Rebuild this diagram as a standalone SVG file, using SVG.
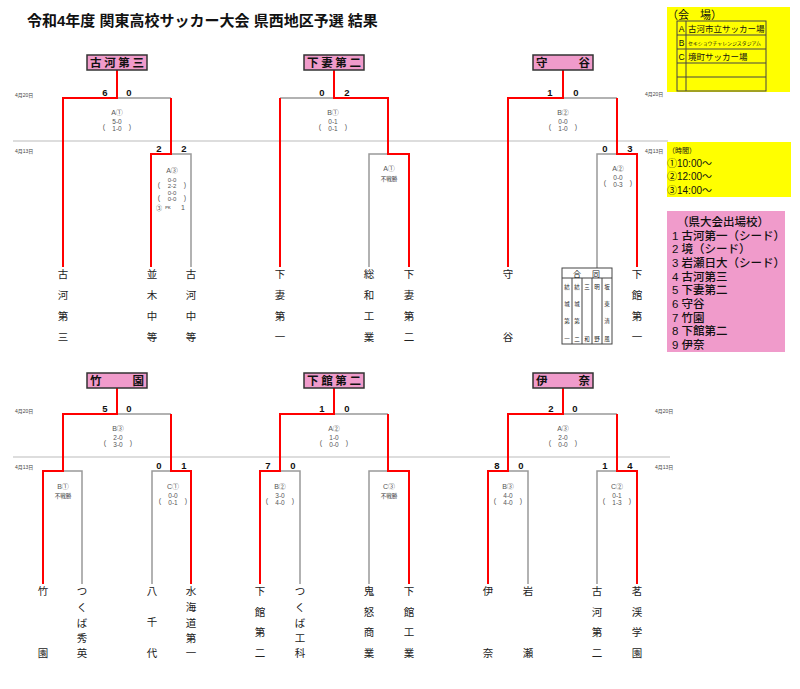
<svg xmlns="http://www.w3.org/2000/svg" width="800" height="689" viewBox="0 0 800 689">
<style>
text{font-family:"Liberation Sans","Noto Sans CJK JP",sans-serif;fill:#111}
.red{stroke:#f00;stroke-width:2;fill:none}
.gray{stroke:#999;stroke-width:1.5;fill:none}
.div{stroke:#bbb;stroke-width:1}
.box{fill:#f09bcb;stroke:#333;stroke-width:1.5}
.boxt{font-size:11.5px;font-weight:bold}
.sc{font-size:9.5px;font-weight:bold;text-anchor:middle}
.m{font-size:7px;fill:#555;text-anchor:middle}
.n{font-size:6.5px;fill:#555;text-anchor:middle}
.n6{font-size:6px;fill:#555;text-anchor:middle}
.fs{font-size:5.5px;fill:#333;text-anchor:middle}
.nm{font-size:10.5px;fill:#222;text-anchor:middle}
.dt{font-size:5px;fill:#444}
.tiny{font-size:5.5px;fill:#222;text-anchor:middle}
.yl{fill:#ffff00}
.pk{fill:#f09bcb}
.tb{fill:none;stroke:#444;stroke-width:1}
.lg{font-size:11.5px;fill:#111;font-weight:500}
.cj{font-family:"Noto Sans CJK JP",sans-serif}
</style>

<rect width="800" height="689" fill="#fff"/>
<text x="27" y="26" font-size="15" font-weight="bold">令和4年度 関東高校サッカー大会 県西地区予選 結果</text>

<!-- dividers and date labels -->
<g id="dates">
<line class="div" x1="13" y1="141" x2="668" y2="141"/>
<line class="div" x1="13" y1="457" x2="670" y2="457"/>
<text class="dt" x="15" y="97">4月20日</text>
<text class="dt" x="15" y="153">4月13日</text>
<text class="dt" x="645" y="96">4月20日</text>
<text class="dt" x="645" y="153">4月13日</text>
<text class="dt" x="15" y="413">4月20日</text>
<text class="dt" x="15" y="469">4月13日</text>
<text class="dt" x="655" y="413">4月20日</text>
<text class="dt" x="655" y="469">4月13日</text>
</g>

<!-- connectors -->
<g id="connectors">
<!-- 古河第三 -->
<path class="gray" d="M117,98 H171"/>
<path class="gray" d="M171,154 H191 V267"/>
<path class="red" d="M117,70 V98 H63 V267"/>
<path class="red" d="M171,98 V154 H151 V267"/>
<!-- 下妻第二 -->
<path class="gray" d="M334,98 H280"/>
<path class="gray" d="M388,154 H369 V267"/>
<path class="red" d="M280,98 V267"/>
<path class="red" d="M334,70 V98 H388 V154 H409 V267"/>
<!-- 守谷 -->
<path class="gray" d="M563,98 H617"/>
<path class="gray" d="M617,154 H597 V268"/>
<path class="red" d="M563,70 V98 H508 V267"/>
<path class="red" d="M617,98 V154 H637 V267"/>
<!-- 竹園 -->
<path class="gray" d="M117,414 H171"/>
<path class="gray" d="M63,471 H82 V584"/>
<path class="gray" d="M171,471 H152 V584"/>
<path class="red" d="M117,388 V414 H63 V471 H43 V584"/>
<path class="red" d="M171,414 V471 H191 V584"/>
<!-- 下館第二 -->
<path class="gray" d="M334,414 H388"/>
<path class="gray" d="M280,471 H300 V584"/>
<path class="gray" d="M388,471 H369 V584"/>
<path class="red" d="M334,388 V414 H280 V471 H260 V584"/>
<path class="red" d="M388,414 V471 H409 V584"/>
<!-- 伊奈 -->
<path class="gray" d="M563,414 H617"/>
<path class="gray" d="M508,471 H528 V584"/>
<path class="gray" d="M617,471 H597 V584"/>
<path class="red" d="M563,388 V414 H508 V471 H488 V584"/>
<path class="red" d="M617,414 V471 H637 V584"/>
</g>

<!-- scores and match info -->
<g id="labels">
<!-- top-left -->
<text class="sc" x="105" y="96">6</text><text class="sc" x="129" y="96">0</text>
<text class="m" x="117" y="115">A①</text>
<text class="n" x="117" y="124">5-0</text><text class="n" x="117" y="131">1-0</text>
<text class="m" x="104" y="129">(</text><text class="m" x="130" y="129">)</text>
<text class="sc" x="159" y="152">2</text><text class="sc" x="184" y="152">2</text>
<text class="m" x="172" y="173">A③</text>
<text class="n6" x="172" y="181.5">0-0</text><text class="n6" x="172" y="188">2-2</text>
<text class="m" x="159" y="186.5">(</text><text class="m" x="185" y="186.5">)</text>
<text class="n6" x="172" y="194.5">0-0</text><text class="n6" x="172" y="201">0-0</text>
<text class="m" x="159" y="199.5">(</text><text class="m" x="185" y="199.5">)</text>
<text class="n6 cj" x="159" y="209.5">③</text><text x="168" y="209" font-size="4" fill="#555" text-anchor="middle">PK</text><text class="m" x="183" y="209.5">1</text>
<!-- top-mid -->
<text class="sc" x="322" y="96">0</text><text class="sc" x="347" y="96">2</text>
<text class="m" x="333" y="115">B①</text>
<text class="n" x="333" y="124">0-1</text><text class="n" x="333" y="131">0-1</text>
<text class="m" x="320" y="129">(</text><text class="m" x="346" y="129">)</text>
<text class="m" x="389" y="171">A①</text>
<text class="fs" x="389" y="180.5">不戦勝</text>
<!-- top-right -->
<text class="sc" x="550" y="96">1</text><text class="sc" x="576" y="96">0</text>
<text class="m" x="563" y="115">B②</text>
<text class="n" x="563" y="124">0-0</text><text class="n" x="563" y="131">1-0</text>
<text class="m" x="550" y="129">(</text><text class="m" x="576" y="129">)</text>
<text class="sc" x="605" y="152">0</text><text class="sc" x="630" y="152">3</text>
<text class="m" x="618" y="171">A②</text>
<text class="n" x="618" y="180">0-0</text><text class="n" x="618" y="187">0-3</text>
<text class="m" x="605" y="185">(</text><text class="m" x="631" y="185">)</text>
<!-- bottom-left -->
<text class="sc" x="105" y="412">5</text><text class="sc" x="129" y="412">0</text>
<text class="m" x="118" y="431">B③</text>
<text class="n" x="118" y="440">2-0</text><text class="n" x="118" y="447">3-0</text>
<text class="m" x="105" y="445">(</text><text class="m" x="131" y="445">)</text>
<text class="m" x="63" y="488.5">B①</text>
<text class="fs" x="63" y="498">不戦勝</text>
<text class="sc" x="159" y="469">0</text><text class="sc" x="184" y="469">1</text>
<text class="m" x="173" y="488.5">C①</text>
<text class="n" x="173" y="497.5">0-0</text><text class="n" x="173" y="504.5">0-1</text>
<text class="m" x="160" y="502.5">(</text><text class="m" x="186" y="502.5">)</text>
<!-- bottom-mid -->
<text class="sc" x="322" y="412">1</text><text class="sc" x="347" y="412">0</text>
<text class="m" x="334" y="431">A②</text>
<text class="n" x="334" y="440">1-0</text><text class="n" x="334" y="447">0-0</text>
<text class="m" x="321" y="445">(</text><text class="m" x="347" y="445">)</text>
<text class="sc" x="268" y="469">7</text><text class="sc" x="293" y="469">0</text>
<text class="m" x="280" y="488.5">B②</text>
<text class="n" x="280" y="497.5">3-0</text><text class="n" x="280" y="504.5">4-0</text>
<text class="m" x="267" y="502.5">(</text><text class="m" x="293" y="502.5">)</text>
<text class="m" x="389" y="488.5">C③</text>
<text class="fs" x="389" y="498">不戦勝</text>
<!-- bottom-right -->
<text class="sc" x="551" y="412">2</text><text class="sc" x="575" y="412">0</text>
<text class="m" x="563" y="431">A③</text>
<text class="n" x="563" y="440">2-0</text><text class="n" x="563" y="447">0-0</text>
<text class="m" x="550" y="445">(</text><text class="m" x="576" y="445">)</text>
<text class="sc" x="497" y="469">8</text><text class="sc" x="521" y="469">0</text>
<text class="m" x="508" y="488.5">B③</text>
<text class="n" x="508" y="497.5">4-0</text><text class="n" x="508" y="504.5">4-0</text>
<text class="m" x="495" y="502.5">(</text><text class="m" x="521" y="502.5">)</text>
<text class="sc" x="605" y="469">1</text><text class="sc" x="630" y="469">4</text>
<text class="m" x="617" y="488.5">C②</text>
<text class="n" x="617" y="497.5">0-1</text><text class="n" x="617" y="504.5">1-3</text>
<text class="m" x="604" y="502.5">(</text><text class="m" x="630" y="502.5">)</text>
</g>

<!-- winner boxes -->
<g id="win-koga3"><rect class="box" x="87" y="55" width="60" height="15"/><text class="boxt" x="90" y="67" textLength="54" lengthAdjust="spacing">古河第三</text></g>
<g id="win-shimotsuma2"><rect class="box" x="304" y="55" width="60" height="15"/><text class="boxt" x="307" y="67" textLength="54" lengthAdjust="spacing">下妻第二</text></g>
<g id="win-moriya"><rect class="box" x="533" y="55" width="60" height="15"/><text class="boxt" x="536" y="67" textLength="54" lengthAdjust="spacing">守谷</text></g>
<g id="win-takezono"><rect class="box" x="87" y="373" width="60" height="15"/><text class="boxt" x="90" y="385" textLength="54" lengthAdjust="spacing">竹園</text></g>
<g id="win-shimodate2"><rect class="box" x="304" y="373" width="60" height="15"/><text class="boxt" x="307" y="385" textLength="54" lengthAdjust="spacing">下館第二</text></g>
<g id="win-ina"><rect class="box" x="533" y="373" width="60" height="15"/><text class="boxt" x="536" y="385" textLength="54" lengthAdjust="spacing">伊奈</text></g>

<!-- top team names -->
<g id="team-koga3"><text class="nm"><tspan x="63" y="278">古</tspan><tspan x="63" y="299">河</tspan><tspan x="63" y="320">第</tspan><tspan x="63" y="341">三</tspan></text></g>
<g id="team-namiki"><text class="nm"><tspan x="152" y="278">並</tspan><tspan x="152" y="299">木</tspan><tspan x="152" y="320">中</tspan><tspan x="152" y="341">等</tspan></text></g>
<g id="team-kogachuto"><text class="nm"><tspan x="191" y="278">古</tspan><tspan x="191" y="299">河</tspan><tspan x="191" y="320">中</tspan><tspan x="191" y="341">等</tspan></text></g>
<g id="team-shimotsuma1"><text class="nm"><tspan x="280" y="278">下</tspan><tspan x="280" y="299">妻</tspan><tspan x="280" y="320">第</tspan><tspan x="280" y="341">一</tspan></text></g>
<g id="team-sowa"><text class="nm"><tspan x="369" y="278">総</tspan><tspan x="369" y="299">和</tspan><tspan x="369" y="320">工</tspan><tspan x="369" y="341">業</tspan></text></g>
<g id="team-shimotsuma2"><text class="nm"><tspan x="409" y="278">下</tspan><tspan x="409" y="299">妻</tspan><tspan x="409" y="320">第</tspan><tspan x="409" y="341">二</tspan></text></g>
<g id="team-moriya"><text class="nm"><tspan x="508" y="278">守</tspan><tspan x="508" y="341">谷</tspan></text></g>
<g id="team-godo">
<rect class="tb" x="562" y="268" width="50" height="76" fill="#fff"/>
<line class="tb" x1="562" y1="278" x2="612" y2="278"/>
<line class="tb" x1="572" y1="278" x2="572" y2="344"/>
<line class="tb" x1="582" y1="278" x2="582" y2="344"/>
<line class="tb" x1="592" y1="278" x2="592" y2="344"/>
<line class="tb" x1="602" y1="278" x2="602" y2="344"/>
<text x="577" y="276.5" font-size="8" text-anchor="middle">合</text>
<text x="596" y="276.5" font-size="8" text-anchor="middle">同</text>
<text class="tiny"><tspan x="567" y="289">結</tspan><tspan x="567" y="306">城</tspan><tspan x="567" y="323">第</tspan><tspan x="567" y="341">一</tspan></text>
<text class="tiny"><tspan x="577" y="289">結</tspan><tspan x="577" y="306">城</tspan><tspan x="577" y="323">第</tspan><tspan x="577" y="341">二</tspan></text>
<text class="tiny"><tspan x="587" y="289">三</tspan><tspan x="587" y="341">和</tspan></text>
<text class="tiny"><tspan x="597" y="289">明</tspan><tspan x="597" y="341">野</tspan></text>
<text class="tiny"><tspan x="607" y="289">坂</tspan><tspan x="607" y="306">東</tspan><tspan x="607" y="323">清</tspan><tspan x="607" y="341">風</tspan></text>
</g>
<g id="team-shimodate1"><text class="nm"><tspan x="637" y="278">下</tspan><tspan x="637" y="299">館</tspan><tspan x="637" y="320">第</tspan><tspan x="637" y="341">一</tspan></text></g>

<!-- bottom team names -->
<g id="team-takezono"><text class="nm"><tspan x="43" y="595">竹</tspan><tspan x="43" y="657">園</tspan></text></g>
<g id="team-tsukubashuei"><text class="nm"><tspan x="82" y="595">つ</tspan><tspan x="82" y="611">く</tspan><tspan x="82" y="627">ば</tspan><tspan x="82" y="642">秀</tspan><tspan x="82" y="657">英</tspan></text></g>
<g id="team-yachiyo"><text class="nm"><tspan x="152" y="595">八</tspan><tspan x="152" y="626">千</tspan><tspan x="152" y="657">代</tspan></text></g>
<g id="team-mitsukaido1"><text class="nm"><tspan x="191" y="595">水</tspan><tspan x="191" y="611">海</tspan><tspan x="191" y="627">道</tspan><tspan x="191" y="642">第</tspan><tspan x="191" y="657">一</tspan></text></g>
<g id="team-shimodate2"><text class="nm"><tspan x="260" y="595">下</tspan><tspan x="260" y="616">館</tspan><tspan x="260" y="636">第</tspan><tspan x="260" y="657">二</tspan></text></g>
<g id="team-tsukubakoka"><text class="nm"><tspan x="300" y="595">つ</tspan><tspan x="300" y="611">く</tspan><tspan x="300" y="627">ば</tspan><tspan x="300" y="642">工</tspan><tspan x="300" y="657">科</tspan></text></g>
<g id="team-kinushogyo"><text class="nm"><tspan x="369" y="595">鬼</tspan><tspan x="369" y="616">怒</tspan><tspan x="369" y="636">商</tspan><tspan x="369" y="657">業</tspan></text></g>
<g id="team-shimodatekogyo"><text class="nm"><tspan x="409" y="595">下</tspan><tspan x="409" y="616">館</tspan><tspan x="409" y="636">工</tspan><tspan x="409" y="657">業</tspan></text></g>
<g id="team-ina"><text class="nm"><tspan x="488" y="595">伊</tspan><tspan x="488" y="657">奈</tspan></text></g>
<g id="team-iwase"><text class="nm"><tspan x="528" y="595">岩</tspan><tspan x="528" y="657">瀬</tspan></text></g>
<g id="team-koga2"><text class="nm"><tspan x="597" y="595">古</tspan><tspan x="597" y="616">河</tspan><tspan x="597" y="636">第</tspan><tspan x="597" y="657">二</tspan></text></g>
<g id="team-meikei"><text class="nm"><tspan x="637" y="595">茗</tspan><tspan x="637" y="616">渓</tspan><tspan x="637" y="636">学</tspan><tspan x="637" y="657">園</tspan></text></g>

<!-- legends -->
<g id="legend-venue">
<rect class="yl" x="667" y="7" width="123" height="85"/>
<text x="667" y="18.5" font-size="11">（会　場）</text>
<rect class="tb" x="677" y="21" width="89" height="70"/>
<line class="tb" x1="677" y1="35" x2="766" y2="35"/>
<line class="tb" x1="677" y1="49" x2="766" y2="49"/>
<line class="tb" x1="677" y1="63" x2="766" y2="63"/>
<line class="tb" x1="677" y1="77" x2="766" y2="77"/>
<line class="tb" x1="686" y1="21" x2="686" y2="91"/>
<text x="681.5" y="31.5" font-size="8.5" text-anchor="middle">A</text>
<text x="688" y="31.5" font-size="8.5">古河市立サッカー場</text>
<text x="681.5" y="45.5" font-size="8.5" text-anchor="middle">B</text>
<text x="688" y="44.5" font-size="4.8" textLength="73" lengthAdjust="spacingAndGlyphs">セキショウチャレンジスタジアム</text>
<text x="681.5" y="59.5" font-size="8.5" text-anchor="middle">C</text>
<text x="688" y="59.5" font-size="8.5">境町サッカー場</text>
</g>
<g id="legend-time">
<rect class="yl" x="667" y="142" width="124" height="55"/>
<text x="668" y="153" font-size="7">（時間）</text>
<text x="667" y="166.5" font-size="10">①10:00～</text>
<text x="667" y="180" font-size="10">②12:00～</text>
<text x="667" y="193.5" font-size="10">③14:00～</text>
</g>
<g id="legend-schools">
<rect class="pk" x="667" y="211" width="118" height="141"/>
<text class="lg" x="677" y="226">（県大会出場校）</text>
<text class="lg" x="672" y="239.5">1 古河第一（シード）</text>
<text class="lg" x="672" y="253">2 境（シード）</text>
<text class="lg" x="672" y="266.5">3 岩瀬日大（シード）</text>
<text class="lg" x="672" y="280.5">4 古河第三</text>
<text class="lg" x="672" y="294">5 下妻第二</text>
<text class="lg" x="672" y="308">6 守谷</text>
<text class="lg" x="672" y="321.5">7 竹園</text>
<text class="lg" x="672" y="335">8 下館第二</text>
<text class="lg" x="672" y="349">9 伊奈</text>
</g>
</svg>
